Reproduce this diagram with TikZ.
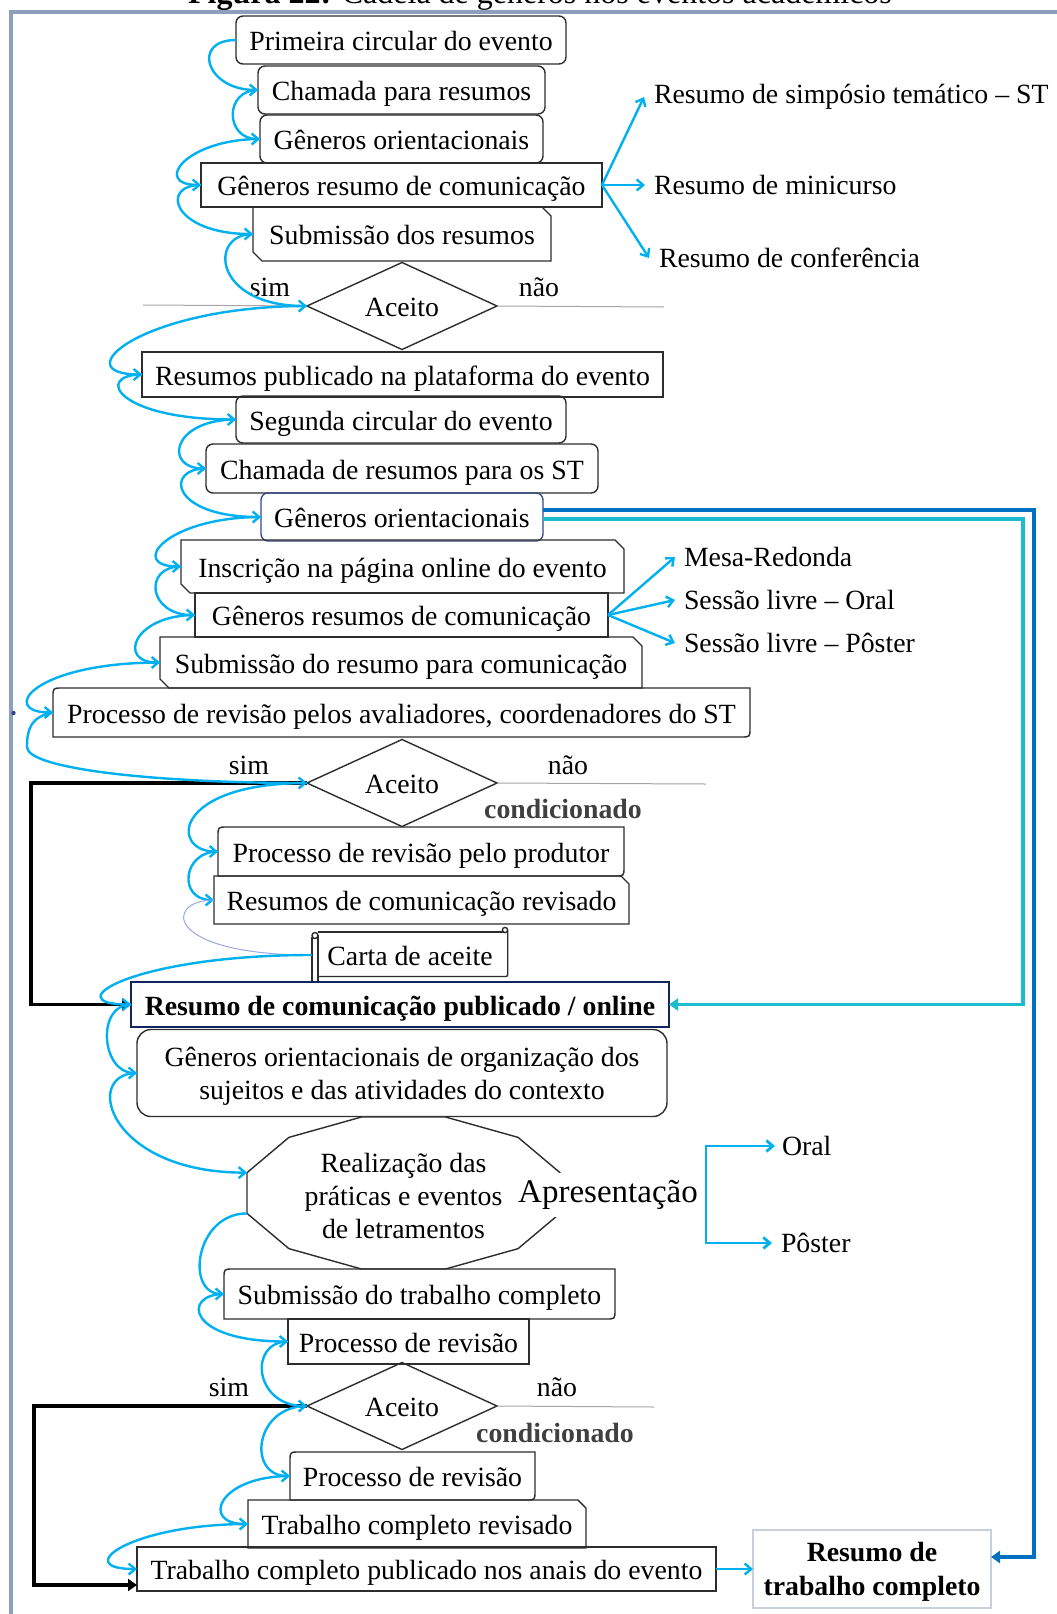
\documentclass[tikz,border=0pt]{standalone}
\usepackage{fontspec}
\setmainfont{Liberation Serif}
\usetikzlibrary{arrows.meta,shapes.geometric,calc}
\definecolor{flowblue}{RGB}{0,176,240}
\definecolor{deepblue}{RGB}{0,112,192}
\definecolor{tealline}{RGB}{28,188,206}
\definecolor{boxgray}{RGB}{45,45,45}
\definecolor{navyedge}{RGB}{16,36,96}
\definecolor{softnavy}{RGB}{50,70,140}
\definecolor{framec}{RGB}{140,160,190}
\definecolor{guide}{RGB}{165,165,165}
\definecolor{condgray}{RGB}{64,64,64}
\definecolor{paleedge}{RGB}{200,208,222}
\definecolor{thinblue}{RGB}{150,170,225}

% corner variants of a plain node outline
\newcommand{\snipboth}[2][9]{\draw[boxln] (#2.north west) -- ([xshift=-#1pt]#2.north east) -- ([yshift=-#1pt]#2.north east) -- (#2.south east) -- ([xshift=#1pt]#2.south west) -- ([yshift=#1pt]#2.south west) -- cycle;}
\newcommand{\snipone}[2][9]{\draw[boxln] (#2.north west) -- ([xshift=-#1pt]#2.north east) -- ([yshift=-#1pt]#2.north east) -- (#2.south east) -- (#2.south west) -- cycle;}
\newcommand{\rounddiag}[2][9]{\draw[boxln] (#2.south west) -- ([yshift=-#1pt]#2.north west) .. controls (#2.north west) .. ([xshift=#1pt]#2.north west) -- (#2.north east) -- ([yshift=#1pt]#2.south east) .. controls (#2.south east) .. ([xshift=-#1pt]#2.south east) -- cycle;}

\begin{document}
\begin{tikzpicture}[x=1pt,y=-1pt,
  every node/.style={font=\fontsize{27.8}{33}\selectfont, inner sep=0pt, outer sep=0pt},
  tx/.style={text height=24pt, text depth=3pt},
  boxln/.style={draw=boxgray, line width=1.4pt},
  rbox/.style={tx, boxln, rounded corners=7pt},
  sbox/.style={tx, draw=boxgray, line width=1.8pt},
  plainbox/.style={tx},
  decision/.style={tx, diamond, draw=boxgray, line width=1.4pt, minimum width=190pt, minimum height=87pt, aspect=2.18},
  flowline/.style={draw=flowblue, line width=2.4pt, -{Straight Barb[length=6.5pt,width=11pt]}},
  thinflow/.style={draw=thinblue, line width=1pt},
  guideline/.style={draw=guide, line width=1pt},
  loopback/.style={draw=black, line width=3.6pt, -{Triangle[length=9pt,width=12pt]}},
  lbl/.style={anchor=west},
]
\useasboundingbox (0,0) rectangle (1057,1614);

% caption and frame
\node[font=\fontsize{32}{38}\selectfont, anchor=base] (ttl) at (540,4) {\textbf{Figura 22:} Cadeia de gêneros nos eventos acadêmicos};
\draw[framec, line width=4pt] (10.8,1620) -- (10.8,12) -- (1065,12);
\fill[softnavy] (13.5,713) circle (2.2);

% ---- first phase ----
\node[rbox, minimum width=330pt, minimum height=48pt] (b1) at (401,40) {Primeira circular do evento};
\node[rbox, minimum width=287pt, minimum height=48pt] (b2) at (401.5,90) {Chamada para resumos};
\node[rbox, minimum width=283pt, minimum height=48pt] (b3) at (401.5,139) {Gêneros orientacionais};
\node[sbox, minimum width=401pt, minimum height=44pt] (b4) at (401.5,185) {Gêneros resumo de comunicação};
\node[plainbox, minimum width=298pt, minimum height=54pt] (b5) at (402,234) {Submissão dos resumos};
\snipboth{b5}
\node[decision] (d1) at (402,306) {Aceito};
\node (s1) at (270,287) {sim};
\node (n1) at (539,287) {não};
\coordinate (g1l) at (143,305);
\coordinate (g1r) at (664,307);
\draw[guideline] (g1l) -- (d1.west);
\draw[guideline] (d1.east) -- (g1r);

\node[lbl] (r1) at (654,97) {Resumo de simpósio temático – ST};
\node[lbl] (r2) at (654,185) {Resumo de minicurso};
\node[lbl] (r3) at (659,258) {Resumo de conferência};
\draw[flowline] (b4.east) -- ([xshift=-10pt]r1.west);
\draw[flowline] (b4.east) -- ([xshift=-9pt]r2.west);
\draw[flowline] (b4.east) -- ([xshift=-10pt]r3.west);

% ---- second phase ----
\node[sbox, minimum width=521pt, minimum height=45pt] (b6) at (402.5,374.5) {Resumos publicado na plataforma do evento};
\node[rbox, minimum width=330pt, minimum height=47pt] (b7) at (401,419.5) {Segunda circular do evento};
\node[rbox, minimum width=392pt, minimum height=49pt] (b8) at (402,468.5) {Chamada de resumos para os ST};
\node[tx, draw=softnavy, line width=1.3pt, rounded corners=7pt, minimum width=282pt, minimum height=48pt] (b9) at (402,517) {Gêneros orientacionais};
\node[plainbox, minimum width=443pt, minimum height=53pt] (b10) at (402.5,566.5) {Inscrição na página online do evento};
\snipboth{b10}
\node[sbox, line width=1.4pt, minimum width=413pt, minimum height=44pt] (b11) at (401.5,615) {Gêneros resumos de comunicação};
\node[plainbox, minimum width=482pt, minimum height=51pt] (b12) at (401,662.5) {Submissão do resumo para comunicação};
\snipboth{b12}
\node[plainbox, minimum width=697pt, minimum height=49pt] (b13) at (401.5,712.5) {Processo de revisão pelos avaliadores, coordenadores do ST};
\rounddiag{b13}

\node[lbl] (m1) at (684,557) {Mesa-Redonda};
\node[lbl] (m2) at (684,600) {Sessão livre – Oral};
\node[lbl] (m3) at (684,643) {Sessão livre – Pôster};
\draw[flowline] (b11.east) -- ([xshift=-9pt]m1.west);
\draw[flowline] (b11.east) -- ([xshift=-9pt]m2.west);
\draw[flowline] (b11.east) -- ([xshift=-9pt]m3.west);

\node[decision] (d2) at (402,783) {Aceito};
\node (s2) at (249,765) {sim};
\node (n2) at (568,765) {não};
\node[font=\fontsize{27.8}{33}\selectfont\bfseries, text=condgray] (c2) at (563,809) {condicionado};
\coordinate (g2r) at (706,784);
\draw[guideline] (d2.east) -- (g2r);

\node[plainbox, minimum width=406pt, minimum height=49pt] (b14) at (421,851.5) {Processo de revisão pelo produtor};
\rounddiag{b14}
\node[plainbox, minimum width=415pt, minimum height=48pt] (b15) at (421.5,900) {Resumos de comunicação revisado};
\snipone[8]{b15}

% letter of acceptance drawn as a scroll
\node[plainbox, minimum width=197pt, minimum height=53pt] (sc) at (410,955) {Carta de aceite};
\draw[boxln] ($(sc.north west)+(6.5,3.5)$) -- ($(sc.north east)+(-5,3.5)$);
\draw[boxln] ($(sc.north east)+(-0.8,2)$) -- ($(sc.south east)+(-0.8,-9)$) .. controls ($(sc.south east)+(-0.8,-5)$) .. ($(sc.south east)+(-5,-5)$) -- ($(sc.south west)+(6.5,-5)$);
\draw[boxln] ($(sc.north east)+(-3.5,1.5)$) circle (2.6);
\draw[boxln] ($(sc.north west)+(0.5,8)$) -- ($(sc.south west)+(0.5,0)$) -- ($(sc.south west)+(6.5,0)$) -- ($(sc.north west)+(6.5,6)$);
\draw[boxln] ($(sc.north west)+(3.5,7)$) circle (3);

\node[tx, draw=navyedge, line width=2.6pt, minimum width=538pt, minimum height=45pt, font=\fontsize{27.8}{33}\selectfont\bfseries] (b17) at (400,1004.5) {Resumo de comunicação publicado / online};
\node[boxln, rounded corners=14pt, minimum width=530pt, minimum height=87pt] (b18) at (402,1073) {};
\node[align=center] (b18t) at (402,1076) {Gêneros orientacionais de organização dos\\sujeitos e das atividades do contexto};

% ---- third phase ----
\coordinate (dc) at (403.5,1193);
\draw[boxln, fill=white, shift={(dc)}] (15:162 and 78.7) -- (45:162 and 78.7) -- (75:162 and 78.7) -- (105:162 and 78.7) -- (135:162 and 78.7) -- (165:162 and 78.7) -- (195:162 and 78.7) -- (225:162 and 78.7) -- (255:162 and 78.7) -- (285:162 and 78.7) -- (315:162 and 78.7) -- (345:162 and 78.7) -- cycle;
\coordinate (oa) at (247,1172.6);
\coordinate (ob) at (247,1213.4);
\node[align=center] (pr) at (403.5,1196) {Realização das\\práticas e eventos\\de letramentos};
\node[fill=white, inner sep=1pt, minimum height=44pt, font=\fontsize{33}{38}\selectfont] (ap) at (608,1195) {Apresentação};
\coordinate (br) at (706,1194);
\node[lbl] (o1) at (782,1146) {Oral};
\node[lbl] (o2) at (781,1243) {Pôster};
\draw[draw=flowblue, line width=2.8pt, -{Straight Barb[length=6.5pt,width=11pt]}] (br) |- ([xshift=-7pt]o1.west);
\draw[draw=flowblue, line width=2.8pt, -{Straight Barb[length=6.5pt,width=11pt]}] (br) |- ([xshift=-9pt]o2.west);

\node[plainbox, minimum width=391pt, minimum height=50pt] (b19) at (419.5,1294) {Submissão do trabalho completo};
\rounddiag{b19}
\node[sbox, line width=1.4pt, minimum width=241pt, minimum height=45pt] (b20) at (408.5,1341.5) {Processo de revisão};
\node[decision] (d3) at (402,1406) {Aceito};
\node (s3) at (229,1387) {sim};
\node (n3) at (557,1387) {não};
\node[font=\fontsize{27.8}{33}\selectfont\bfseries, text=condgray] (c3) at (555,1433) {condicionado};
\coordinate (g3r) at (654,1407);
\draw[guideline] (d3.east) -- (g3r);

\node[plainbox, minimum width=245pt, minimum height=48pt] (b21) at (412.5,1476) {Processo de revisão};
\rounddiag{b21}
\node[plainbox, minimum width=338pt, minimum height=48pt] (b22) at (417,1524) {Trabalho completo revisado};
\snipone[8]{b22}
\node[sbox, line width=1.4pt, minimum width=579pt, minimum height=44pt] (b23) at (426.5,1569) {Trabalho completo publicado nos anais do evento};
\node[draw=paleedge, line width=1.3pt, minimum width=238pt, minimum height=78pt] (b24) at (872,1569) {};
\node[align=center, font=\fontsize{27.8}{34}\selectfont\bfseries] (b24t) at (872,1572) {Resumo de\\trabalho completo};
\draw[flowline] (b23.east) -- (b24.west);

% ---- long returns ----
\draw[deepblue, line width=3.8pt, -{Triangle[length=9pt,width=12pt]}] ([yshift=7pt]b9.east) -- ++(491,0) |- ([yshift=12pt]b24.east);
\draw[tealline, line width=3.8pt, -{Triangle[length=9pt,width=12pt]}] ([yshift=-2pt]b9.east) -- ++(480,0) |- (b17.east);
\draw[loopback] (d2.west) -- ++(-276,0) |- (b17.west);
\draw[loopback] (d3.west) -- ++(-273,0) |- ([yshift=-16pt]b23.west);

% ---- chain connectors ----
\draw[flowline] (b1.west) .. controls +(-45,0) and +(-52,0) .. (b2.west);
\draw[flowline] (b2.west) .. controls +(-34,0) and +(-35,0) .. (b3.west);
\draw[flowline] (b3.west) .. controls +(-75,0) and +(-49,0) .. (b4.west);
\draw[flowline] (b4.west) .. controls +(-42,0) and +(-80,0) .. (b5.west);
\draw[flowline] (b5.west) .. controls +(-45,0) and +(-94,0) .. (d1.west);
\draw[flowline] (d1.west) .. controls +(-165,0) and +(-79,0) .. (b6.west);
\draw[flowline] (b6.west) .. controls +(-48,0) and +(-120,0) .. (b7.west);
\draw[flowline] (b7.west) .. controls +(-65,0) and +(-42,0) .. (b8.west);
\draw[flowline] (b8.west) .. controls +(-42,0) and +(-90,0) .. (b9.west);
\draw[flowline] (b9.west) .. controls +(-95,0) and +(-54,0) .. (b10.west);
\draw[flowline] (b10.west) .. controls +(-38,0) and +(-47,0) .. (b11.west);
\draw[flowline] (b11.west) .. controls +(-62,0) and +(-43,0) .. (b12.west);
\draw[flowline] (b12.west) .. controls +(-128,0) and +(-55,0) .. (b13.west);
\coordinate (k14) at (27,747);
\draw[flowline] (b13.west) .. controls +(-22,4) and +(0,-18) .. (k14) .. controls +(0,22) and +(-150,0) .. (d2.west);
\draw[flowline] (d2.west) .. controls +(-135,0) and +(-48,0) .. (b14.west);
\draw[flowline] (b14.west) .. controls +(-36,0) and +(-36,0) .. (b15.west);
\draw[thinflow] (b15.west) .. controls +(-50,0) and +(-149,0) .. (sc.west);
\draw[flowline] (sc.west) .. controls +(-180,0) and +(-76,0) .. (b17.west);
\draw[flowline] (b17.west) .. controls +(-35,0) and +(-36,0) .. (b18.west);
\draw[flowline] (b18.west) .. controls +(-55,0) and +(-139,0) .. (oa);
\draw[flowline] (ob) .. controls +(-52,0) and +(-39,0) .. (b19.west);
\draw[flowline] (b19.west) .. controls +(-42,0) and +(-102,0) .. (b20.west);
\draw[flowline] (b20.west) .. controls +(-40,0) and +(-53,0) .. (d3.west);
\draw[flowline] (d3.west) .. controls +(-53,0) and +(-43,0) .. (b21.west);
\draw[flowline] (b21.west) .. controls +(-72,0) and +(-48,0) .. (b22.west);
\draw[flowline] (b22.west) .. controls +(-118,0) and +(-67,0) .. (b23.west);
\end{tikzpicture}
\end{document}
